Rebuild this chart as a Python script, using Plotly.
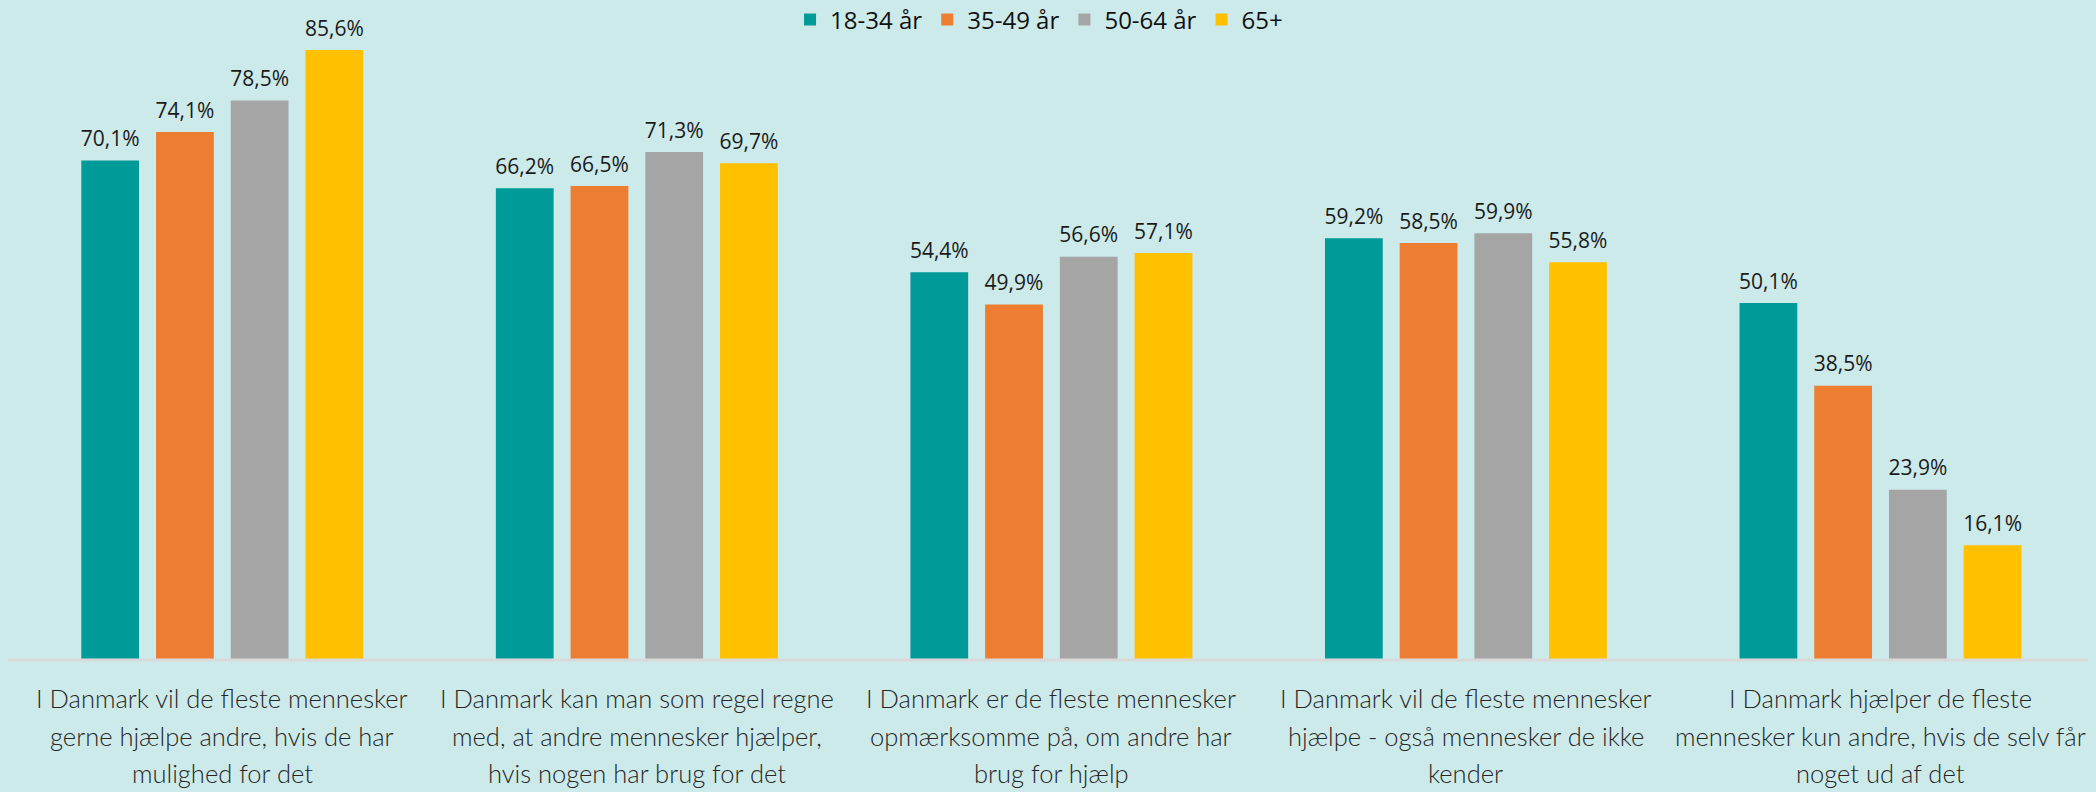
import plotly.graph_objects as go

categories = [
    "I Danmark vil de fleste mennesker<br>gerne hjælpe andre, hvis de har<br>mulighed for det",
    "I Danmark kan man som regel regne<br>med, at andre mennesker hjælper,<br>hvis nogen har brug for det",
    "I Danmark er de fleste mennesker<br>opmærksomme på, om andre har<br>brug for hjælp",
    "I Danmark vil de fleste mennesker<br>hjælpe - også mennesker de ikke<br>kender",
    "I Danmark hjælper de fleste<br>mennesker kun andre, hvis de selv får<br>noget ud af det",
]
series_names = ["18-34 år", "35-49 år", "50-64 år", "65+"]
values_18_34 = [70.1, 66.2, 54.4, 59.2, 50.1]
values_35_49 = [74.1, 66.5, 49.9, 58.5, 38.5]
values_50_64 = [78.5, 71.3, 56.6, 59.9, 23.9]
values_65 = [85.6, 69.7, 57.1, 55.8, 16.1]
series_values = [values_18_34, values_35_49, values_50_64, values_65]
colors = ["#009A98", "#ED7D31", "#A5A5A5", "#FFC000"]

BG = "#CCEAEA"
fig = go.Figure()
for name, vals, col in zip(series_names, series_values, colors):
    fig.add_trace(go.Bar(
        x=categories, y=vals, name=name, marker_color=col,
        marker_line_width=0, offsetgroup=name,
    ))
for name, vals, col in zip(series_names, series_values, colors):
    fig.add_trace(go.Scatter(
        x=categories, y=vals, mode="markers+text", offsetgroup=name,
        text=[f"{v:.1f}".replace(".", ",") + "%" for v in vals],
        textposition="top center",
        textfont=dict(family="Open Sans", size=21, color="#1a1a1a"),
        marker=dict(size=13, opacity=0, color=col),
        showlegend=False, hoverinfo="skip", cliponaxis=False,
    ))

annotations = []
for cat in categories:
    for i, line in enumerate(cat.split("<br>")):
        annotations.append(dict(
            x=cat, xref="x", y=0, yref="paper", yanchor="middle",
            yshift=-38 - 37.5 * i, text=line, showarrow=False,
            font=dict(family="Lato", size=25.5, color="#262626", weight=300),
        ))

fig.add_shape(type="line", xref="paper", yref="paper", x0=-0.0035, x1=1.0, y0=0, y1=0,
              line=dict(color="#D9D9D9", width=3), layer="above")

fig.update_layout(
    width=2096, height=792,
    paper_bgcolor=BG, plot_bgcolor=BG,
    margin=dict(l=15, r=8, t=50, b=132),
    barmode="group", bargap=0.279, bargroupgap=0.227,
    scattermode="group", scattergap=0.279,
    legend=dict(orientation="h", x=0.494, xanchor="center",
                yref="container", y=1 - 20 / 792, yanchor="middle",
                font=dict(family="Open Sans", size=24, color="#111111"),
                bgcolor="rgba(0,0,0,0)", itemwidth=30, traceorder="normal"),
    xaxis=dict(showticklabels=False, showline=False,
               showgrid=False, zeroline=False, ticks=""),
    yaxis=dict(range=[0, 85.6], visible=False, showgrid=False, zeroline=False),
    annotations=annotations,
    showlegend=True,
)
fig.write_html("out.html", config={"displayModeBar": False},
               post_script="document.body.style.margin='0';document.body.style.background='" + BG + "';")
